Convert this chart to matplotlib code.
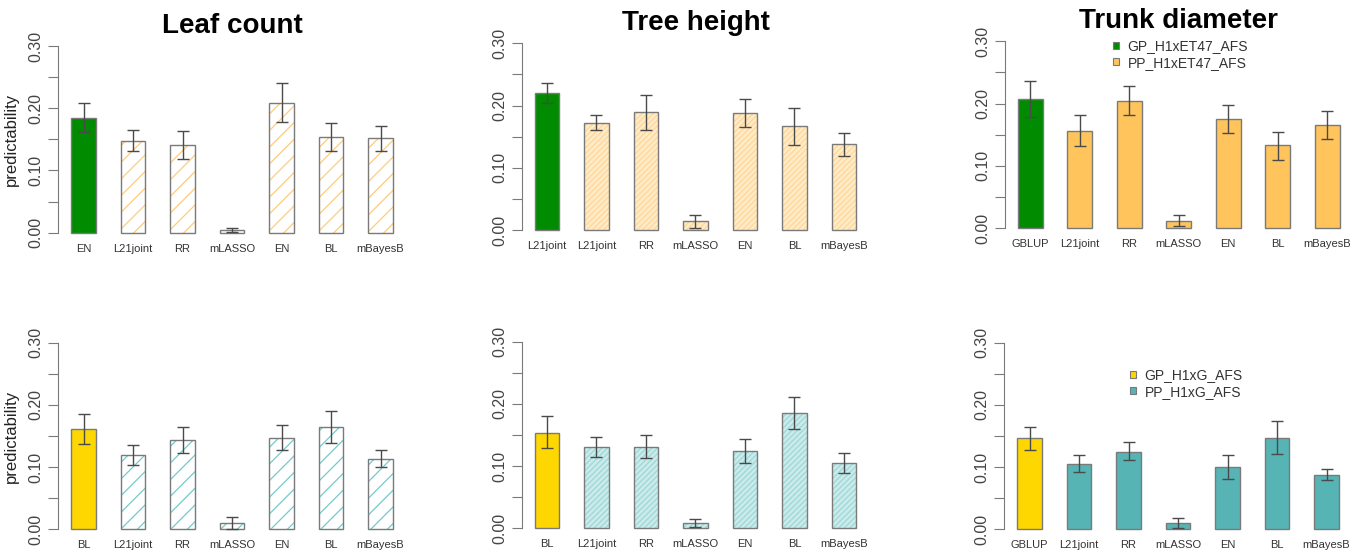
import numpy as np
import matplotlib.pyplot as plt
from matplotlib.patches import Patch

plt.rcParams['font.family'] = ['Liberation Sans', 'DejaVu Sans']
plt.rcParams['hatch.linewidth'] = 0.9

green = '#008B00'
orange = '#FFC55C'
gold = '#FFD700'
teal = '#56B4B4'
hatch_orange = '#FFCC77'
hatch_teal = '#74CACA'
edge = '#7A7A7A'

# top row (H1xET47)
leaf1_labels = ['EN', 'L21joint', 'RR', 'mLASSO', 'EN', 'BL', 'mBayesB']
leaf1_vals = [0.185, 0.148, 0.141, 0.004, 0.209, 0.154, 0.152]
leaf1_lo = [0.162, 0.131, 0.119, 0.001, 0.178, 0.131, 0.131]
leaf1_hi = [0.208, 0.165, 0.163, 0.008, 0.240, 0.177, 0.172]

height1_labels = ['L21joint', 'L21joint', 'RR', 'mLASSO', 'EN', 'BL', 'mBayesB']
height1_vals = [0.220, 0.172, 0.189, 0.0145, 0.1875, 0.167, 0.138]
height1_lo = [0.204, 0.160, 0.160, 0.004, 0.165, 0.137, 0.119]
height1_hi = [0.237, 0.184, 0.217, 0.024, 0.211, 0.196, 0.156]

trunk1_labels = ['GBLUP', 'L21joint', 'RR', 'mLASSO', 'EN', 'BL', 'mBayesB']
trunk1_vals = [0.207, 0.156, 0.204, 0.012, 0.175, 0.133, 0.165]
trunk1_lo = [0.179, 0.132, 0.181, 0.004, 0.152, 0.110, 0.1425]
trunk1_hi = [0.236, 0.182, 0.228, 0.021, 0.197, 0.155, 0.188]

# bottom row (H1xG)
leaf2_labels = ['BL', 'L21joint', 'RR', 'mLASSO', 'EN', 'BL', 'mBayesB']
leaf2_vals = [0.161, 0.119, 0.1435, 0.0096, 0.147, 0.164, 0.113]
leaf2_lo = [0.137, 0.103, 0.123, 0.0, 0.128, 0.139, 0.100]
leaf2_hi = [0.185, 0.136, 0.164, 0.020, 0.167, 0.190, 0.127]

height2_labels = ['BL', 'L21joint', 'RR', 'mLASSO', 'EN', 'BL', 'mBayesB']
height2_vals = [0.154, 0.130, 0.131, 0.0086, 0.124, 0.185, 0.1055]
height2_lo = [0.1286, 0.115, 0.1125, 0.0016, 0.105, 0.159, 0.0895]
height2_hi = [0.1805, 0.147, 0.150, 0.0155, 0.1436, 0.2105, 0.1205]

trunk2_labels = ['GBLUP', 'L21joint', 'RR', 'mLASSO', 'EN', 'BL', 'mBayesB']
trunk2_vals = [0.146, 0.105, 0.125, 0.010, 0.100, 0.147, 0.088]
trunk2_lo = [0.127, 0.0916, 0.111, 0.002, 0.081, 0.121, 0.079]
trunk2_hi = [0.165, 0.1195, 0.140, 0.018, 0.1195, 0.174, 0.0975]

legend1 = ['GP_H1xET47_AFS', 'PP_H1xET47_AFS']
legend2 = ['GP_H1xG_AFS', 'PP_H1xG_AFS']

W, H = 1362, 558


def rect(xa, y0, y30):
    unit = 24.75
    ppv = (y0 - y30) / 0.3
    bottom = y0 + 0.012 * ppv
    return [xa / W, 1 - bottom / H, 14.04 * unit / W, 0.324 * ppv / H]


# pp style: (fill, hatch colour, hatch); hatch None means solid fill
sparse_orange = ('white', hatch_orange, '//')
dense_orange = ('#FFEBC8', '#FFD795', '//////')
solid_orange = (orange, None, None)
sparse_teal = ('white', hatch_teal, '//')
dense_teal = ('#CBEBEB', '#9CD7D7', '//////')
solid_teal = (teal, None, None)

panels = [
    ('Leaf count', leaf1_labels, leaf1_vals, leaf1_lo, leaf1_hi, green, orange, sparse_orange, rect(58.3, 232.7, 46.0)),
    ('Tree height', height1_labels, height1_vals, height1_lo, height1_hi, green, orange, dense_orange, rect(521.7, 230.0, 43.3)),
    ('Trunk diameter', trunk1_labels, trunk1_vals, trunk1_lo, trunk1_hi, green, orange, solid_orange, rect(1005.0, 228.0, 41.3)),
    (None, leaf2_labels, leaf2_vals, leaf2_lo, leaf2_hi, gold, teal, sparse_teal, rect(58.3, 529.3, 342.7)),
    (None, height2_labels, height2_vals, height2_lo, height2_hi, gold, teal, dense_teal, rect(521.7, 528.3, 341.7)),
    (None, trunk2_labels, trunk2_vals, trunk2_lo, trunk2_hi, gold, teal, solid_teal, rect(1004.3, 529.3, 342.7)),
]

fig = plt.figure(figsize=(W / 100, H / 100), dpi=100)

for i, (title, labels, vals, lo, hi, gp_col, pp_col, style, r) in enumerate(panels):
    ax = fig.add_axes(r)
    vals = np.array(vals)
    x = 1.5 + 2 * np.arange(len(vals))
    fill, hcol, hatch = style

    ax.bar(x[0], vals[0], width=1, color=gp_col, edgecolor=edge, linewidth=1)
    if hatch is None:
        ax.bar(x[1:], vals[1:], width=1, color=fill, edgecolor=edge, linewidth=1)
    else:
        ax.bar(x[1:], vals[1:], width=1, color=fill, edgecolor=hcol, hatch=hatch, linewidth=0)
        ax.bar(x[1:], vals[1:], width=1, color='none', edgecolor=edge, linewidth=1)

    yerr = [vals - np.array(lo), np.array(hi) - vals]
    ax.errorbar(x, vals, yerr=yerr, fmt='none', ecolor='#4A4A4A', elinewidth=1, capsize=4.3, capthick=1)

    ax.set_xlim(0.48, 14.52)
    ax.set_ylim(-0.012, 0.312)
    ax.set_yticks(np.arange(0, 0.301, 0.05))
    ax.set_yticklabels(['0.00', '', '0.10', '', '0.20', '', '0.30'])
    ax.tick_params(axis='y', labelrotation=90, length=7, pad=3.6, color=edge,
                   labelsize=11.5, labelcolor='#444444')
    ax.set_xticks(x)
    ax.set_xticklabels(labels)
    ax.tick_params(axis='x', length=0, pad=2.5, labelsize=8, labelcolor='#333333')
    for t in ax.get_yticklabels():
        t.set_va('center')

    for s in ['top', 'right', 'bottom']:
        ax.spines[s].set_visible(False)
    ax.spines['left'].set_bounds(0, 0.3)
    ax.spines['left'].set_color(edge)

    if title:
        ax.set_title(title, fontsize=20, fontweight='bold', pad=4)
    if i % 3 == 0:
        ax.set_ylabel('predictability', fontsize=12, color='#222222')
        ax.yaxis.set_label_coords(-0.112, 0.5)

    if i == 2 or i == 5:
        names = legend1 if i == 2 else legend2
        handles = [Patch(facecolor=gp_col, edgecolor=edge, linewidth=0.8),
                   Patch(facecolor=pp_col, edgecolor=edge, linewidth=0.8)]
        anchor = (1113 / W, 1 - 39.5 / H) if i == 2 else (1130 / W, 1 - 368.5 / H)
        fig.legend(handles, names, loc='upper left', bbox_to_anchor=anchor,
                   frameon=False, fontsize=10, handlelength=0.45, handleheight=0.45,
                   handletextpad=0.6, labelspacing=0.15, borderpad=0, borderaxespad=0,
                   labelcolor='#333333')

fig.savefig('out.png', dpi=100)
